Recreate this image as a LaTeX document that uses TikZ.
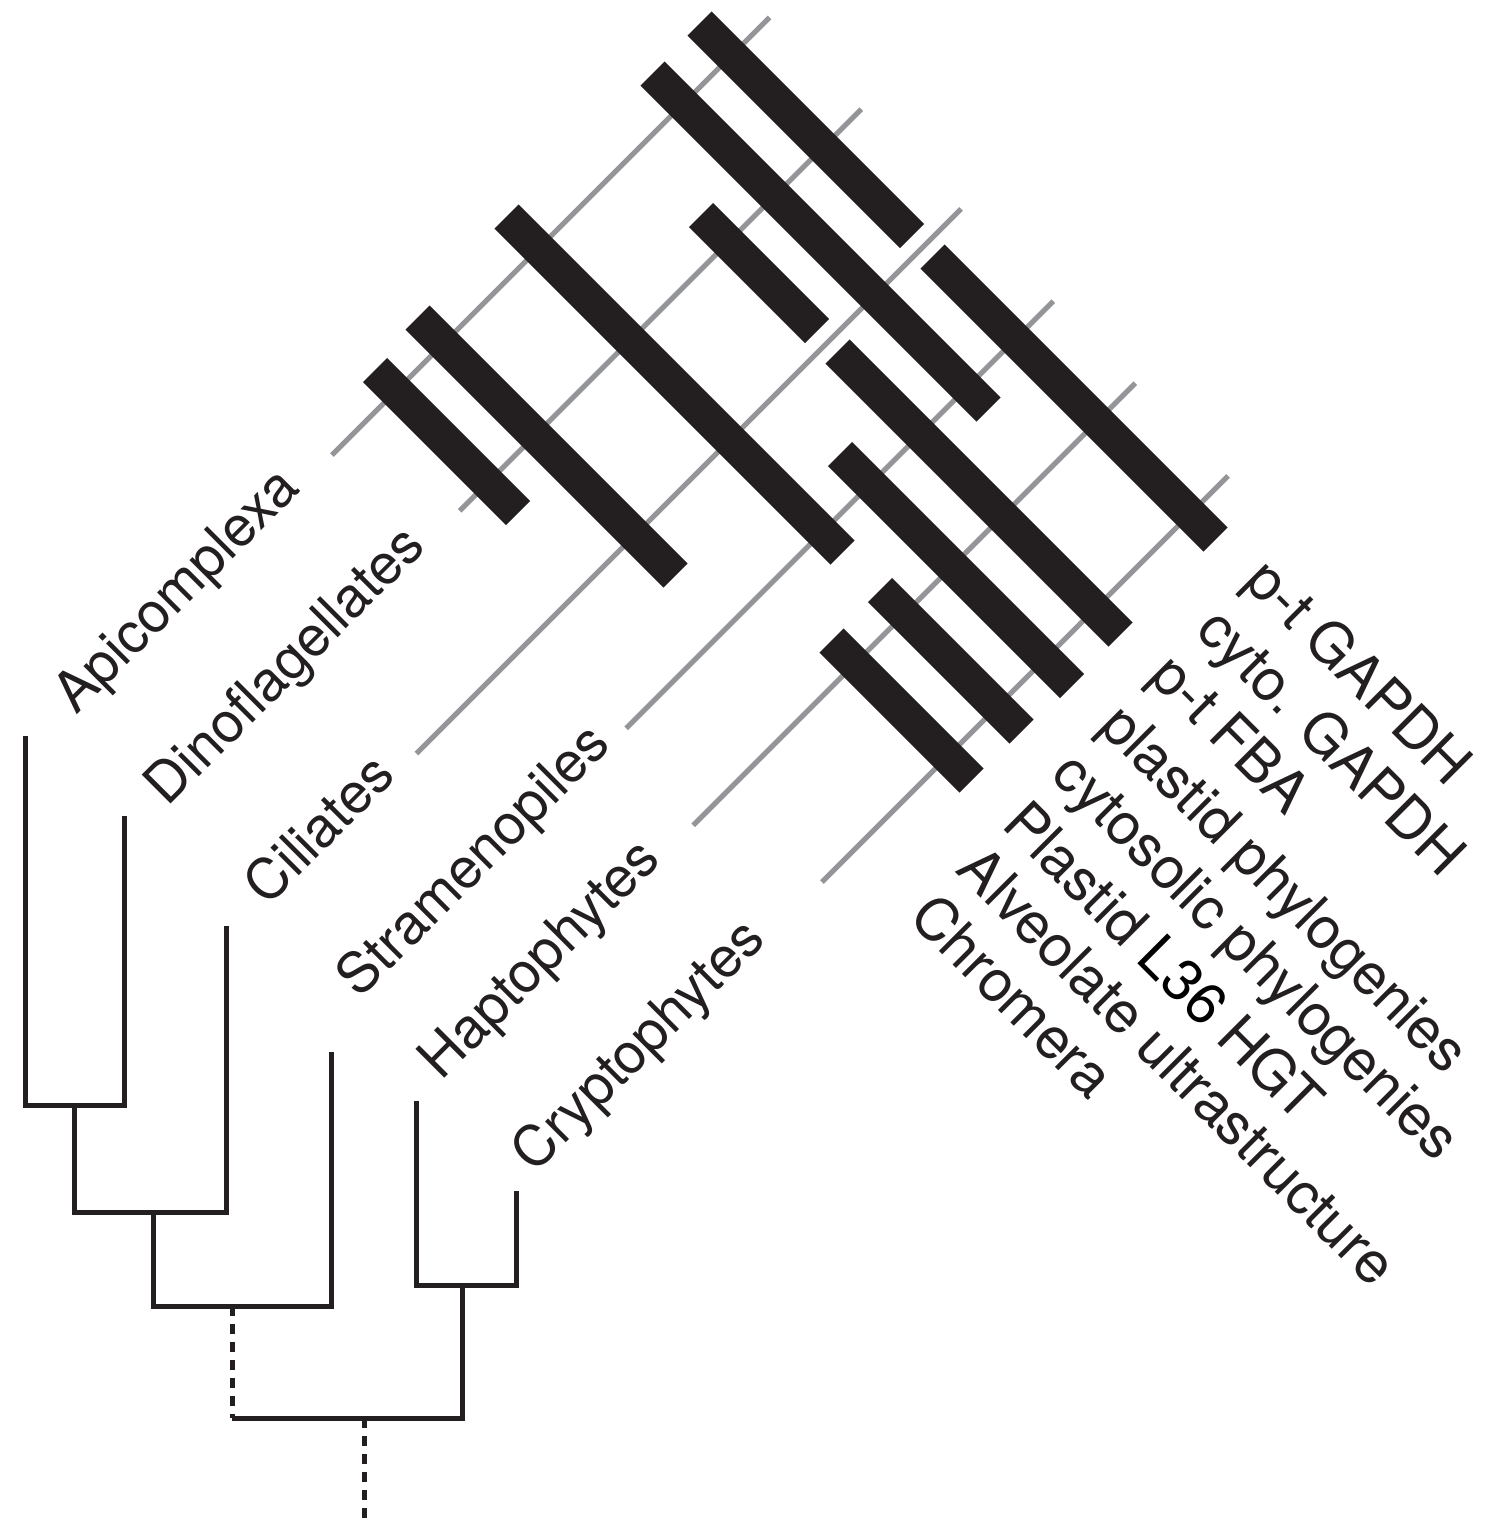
\documentclass[tikz,border=0pt]{standalone}
\usepackage{fontspec}
\setmainfont{TeX Gyre Heros}
\definecolor{ink}{HTML}{231F20}
\definecolor{lgray}{HTML}{939598}
\begin{document}
\begin{tikzpicture}[x=1pt,y=-1pt,
  taxline/.style={draw=lgray, line width=5pt},
  evbar/.style={draw=ink, line width=34.2pt},
  branch/.style={draw=ink, line width=5pt, line join=miter},
  dotbranch/.style={draw=ink, line width=5pt, dash pattern=on 10pt off 8pt},
  lbl/.style={inner sep=0pt, anchor=base west, text=ink},
  taxlabel/.style={lbl, rotate=45, font=\fontsize{56}{60}\selectfont},
  evlabel/.style={lbl, rotate=-45, font=\fontsize{58}{62}\selectfont}]
\useasboundingbox (0,0) rectangle (1484,1523);

% taxon (gray) lines
\coordinate (L1a) at (332,455);      \coordinate (L1b) at (769.5,17.5);
\coordinate (L2a) at (459.75,510.75); \coordinate (L2b) at (861.25,109.25);
\coordinate (L3a) at (416.5,753.5);   \coordinate (L3b) at (961,209);
\coordinate (L4a) at (626.25,728.25); \coordinate (L4b) at (1053.25,301.25);
\coordinate (L5a) at (693.25,825.25); \coordinate (L5b) at (1135.25,383.25);
\coordinate (L6a) at (822,882);       \coordinate (L6b) at (1228,476);
\foreach \i in {1,...,6} {\draw[taxline] (L\i a) -- (L\i b);}

% evidence bars
\coordinate (B1a) at (699.5,23.5);  \coordinate (B1b) at (912,236);
\coordinate (B1c) at (932.5,256.5); \coordinate (B1d) at (1215.5,539.5);
\coordinate (B2a) at (652.5,73.5);  \coordinate (B2b) at (988.5,409.5);
\coordinate (B3a) at (701,215);     \coordinate (B3b) at (817,331);
\coordinate (B3c) at (837.5,351.5); \coordinate (B3d) at (1120.5,634.5);
\coordinate (B4a) at (840,454);     \coordinate (B4b) at (1072,686);
\coordinate (B5a) at (506.5,216.5); \coordinate (B5b) at (842.5,552.5);
\coordinate (B5c) at (880,590);     \coordinate (B5d) at (1021.5,731.5);
\coordinate (B6a) at (831.5,640.5); \coordinate (B6b) at (971.5,780.5);
\coordinate (B7a) at (417.5,317.5); \coordinate (B7b) at (675.5,575.5);
\coordinate (B8a) at (375,370);     \coordinate (B8b) at (518,513);
\draw[evbar] (B1a) -- (B1b);
\draw[evbar] (B1c) -- (B1d);
\draw[evbar] (B2a) -- (B2b);
\draw[evbar] (B3a) -- (B3b);
\draw[evbar] (B3c) -- (B3d);
\draw[evbar] (B4a) -- (B4b);
\draw[evbar] (B5a) -- (B5b);
\draw[evbar] (B5c) -- (B5d);
\draw[evbar] (B6a) -- (B6b);
\draw[evbar] (B7a) -- (B7b);
\draw[evbar] (B8a) -- (B8b);

% taxon labels
\node[taxlabel] (tApi)  at (76,716)        {Apicomplexa};
\node[taxlabel] (tDino) at (167.75,807.75) {Dinoflagellates};
\node[taxlabel] (tCil)  at (267.5,907.5)   {Ciliates};
\node[taxlabel] (tStr)  at (359.75,999.75) {Stramenopiles};
\node[taxlabel] (tHap)  at (441.75,1081.75){Haptophytes};
\node[taxlabel] (tCry)  at (534.5,1174.5)  {Cryptophytes};

% evidence labels
\node[evlabel] (e1) at (1242.5,583.5) {p-t GAPDH};
\node[evlabel] (e2) at (1194,632)     {cyto. GAPDH};
\node[evlabel] (e3) at (1147.5,678.5) {p-t FBA};
\node[evlabel] (e4) at (1097.5,728.5) {plastid phylogenies};
\node[evlabel] (e5) at (1049.5,776.5) {cytosolic phylogenies};
\node[evlabel] (e6) at (1000,826)     {Plastid {\color{black}L36} HGT};
\node[evlabel] (e7) at (954.5,871.5)  {Alveolate ultrastructure};
\node[evlabel] (e8) at (907,919)      {Chromera};

% tree
\coordinate (apiT) at (25,736);    \coordinate (apiB) at (25,1105);
\coordinate (dinT) at (124.5,816); \coordinate (dinB) at (124.5,1105);
\coordinate (n1)   at (74,1105);   \coordinate (n1B)  at (74,1212);
\coordinate (cilT) at (226.5,926); \coordinate (cilB) at (226.5,1212);
\coordinate (n2)   at (153,1212);  \coordinate (n2B)  at (153,1306);
\coordinate (strT) at (331.5,1052);\coordinate (strB) at (331.5,1306);
\coordinate (n3)   at (232,1306);  \coordinate (n3B)  at (232,1418);
\coordinate (hapT) at (416.5,1101);\coordinate (hapB) at (416.5,1285);
\coordinate (cryT) at (516.5,1191);\coordinate (cryB) at (516.5,1285);
\coordinate (n4)   at (462.5,1285);\coordinate (n4B)  at (462.5,1418);
\coordinate (root) at (364,1418);  \coordinate (rootB) at (364,1523);
\draw[branch] (apiT) -- (apiB) -- (dinB) -- (dinT);
\draw[branch] (n1) -- (n1B) -- (cilB) -- (cilT);
\draw[branch] (n2) -- (n2B) -- (strB) -- (strT);
\draw[branch] (hapT) -- (hapB) -- (cryB) -- (cryT);
\draw[branch] (n3B) -- (n4B) -- (n4);
\draw[dotbranch] (n3) -- (n3B);
\draw[dotbranch] (root) -- (rootB);
\end{tikzpicture}
\end{document}
